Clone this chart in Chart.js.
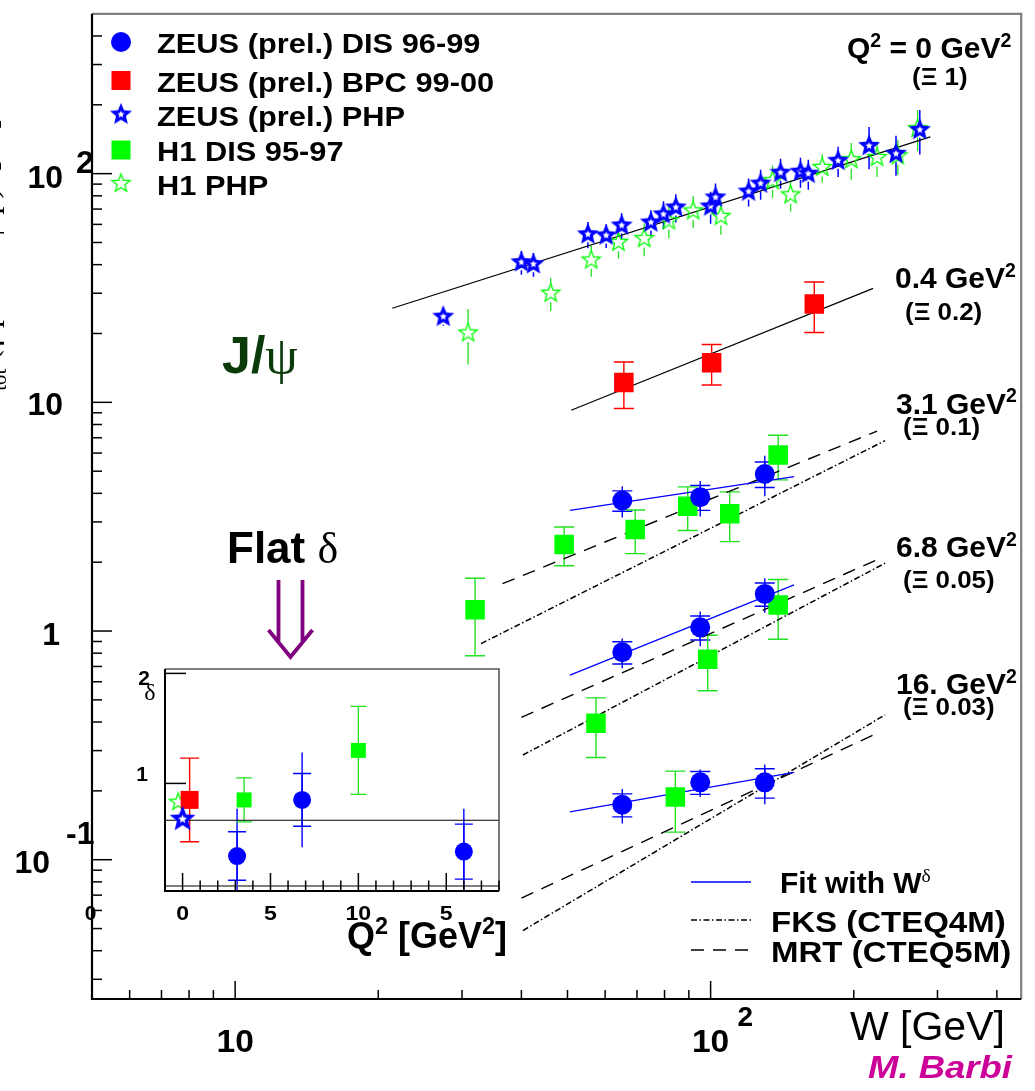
<!DOCTYPE html>
<html>
<head>
<meta charset="utf-8">
<script src="https://cdn.jsdelivr.net/npm/chart.js@4.4.0/dist/chart.umd.min.js"></script>
<style>
  body { margin: 0; background: #fff; }
  #wrap { position: relative; width: 1035px; height: 1091px; overflow: hidden; }
  #main { position: absolute; left: 0; top: 0; }
  #inset { position: absolute; left: 120px; top: 640px; }
</style>
</head>
<body>
<div id="wrap">
  <canvas id="main" width="1035" height="1091"></canvas>
  <canvas id="inset" width="400" height="330"></canvas>
</div>
<script>
// ZEUS photoproduction (Q2 = 0)
const zeusPhpW = [27.4, 40.0, 42.4, 55.2, 60.3, 65.0, 74.9, 79.6, 84.5, 100, 102.4, 120.2, 127.4, 140.3, 154.5, 160.5, 185.4, 215.4, 245.4, 275.4];
const zeusPhpSigma = [23.7, 41.0, 40.2, 54.3, 53.7, 59.4, 61.2, 66.4, 71.2, 71.9, 78.7, 83.5, 90.5, 101, 102, 100, 113.9, 132.3, 122.2, 155.4];
const zeusPhpErr = [2.1, 4.9, 4.8, 7.1, 6.4, 7.7, 8.0, 9.3, 10.0, 11.5, 11.8, 11.7, 13.6, 15.2, 15.3, 15, 17.1, 27.8, 24.4, 34.2];

// H1 photoproduction (Q2 = 0)
const h1PhpW = [30.9, 46.1, 56.1, 64.0, 72.5, 81.7, 91.9, 105.1, 135, 147.3, 171.7, 197.6, 223.9, 247.6, 272.5];
const h1PhpSigma = [20.1, 30.0, 41.9, 50.1, 52.0, 62.2, 68.7, 65.0, 93.2, 80.8, 106.5, 115.1, 117.7, 119.8, 157.4];
const h1PhpErr = [5.5, 5.0, 6.5, 7.5, 8.5, 10, 11, 11, 15, 12.5, 15, 21, 21, 21, 32];

// ZEUS BPC (Q2 = 0.4, x 0.2)
const bpcW = [65.7, 100.5, 165.2];
const bpcSigma = [12.2, 14.9, 26.9];
const bpcErr = [2.8, 3.0, 6.7];

// ZEUS DIS (scaled)
const zeusDisW = [65.2, 95.1, 130];
const zeusDis31 = [3.72, 3.85, 4.86];
const zeusDis31Stat = [0.38, 0.48, 0.62];
const zeusDis31Tot = [0.58, 0.68, 0.98];
const zeusDis68 = [0.808, 1.038, 1.453];
const zeusDis68Stat = [0.09, 0.125, 0.17];
const zeusDis68Tot = [0.12, 0.18, 0.25];
const zeusDis16 = [0.174, 0.218, 0.218];
const zeusDis16Stat = [0.02, 0.025, 0.032];
const zeusDis16Tot = [0.03, 0.03, 0.043];

// H1 DIS (scaled)
const h1Dis31W = [31.96, 49.2, 69.4, 89.5, 109.7, 138.7];
const h1Dis31 = [1.24, 2.39, 2.78, 3.51, 3.26, 5.88];
const h1Dis31Err = [0.46, 0.46, 0.6, 0.76, 0.8, 1.3];
const h1Dis68W = [57.4, 98.6, 138.7];
const h1Dis68 = [0.395, 0.753, 1.301];
const h1Dis68Err = [0.115, 0.205, 0.38];
const h1Dis16W = [84.3];
const h1Dis16 = [0.188];
const h1Dis16Err = [0.056];

// curves: end points (power laws are straight on log-log)
const fitPhpW = [21.4, 289.8], fitPhp = [25.8, 144.8];
const fitBpcW = [50.9, 219.7], fitBpc = [9.23, 31.5];
const fitDisW = [50.6, 149.8];
const fit31 = [3.37, 4.73], fit68 = [0.642, 1.59], fit16 = [0.162, 0.241];
const mrt31W = [36.5, 223.9], mrt31 = [1.61, 7.48];
const mrtW = [40.0, 223.9];
const mrt68 = [0.419, 2.05], mrt16 = [0.0679, 0.357];
const fks31W = [32.9, 232.8], fks31 = [0.881, 6.80];
const fksW = [40.3, 232.8];
const fks68 = [0.287, 1.98], fks16 = [0.049, 0.430];

// inset: delta vs Q2
const dZeusQ2 = [3.1, 6.8, 16];
const dZeus = [0.34, 0.85, 0.38];
const dZeusStat = [0.22, 0.24, 0.25];
const dZeusTot = [0.43, 0.43, 0.39];
const dH1Q2 = [3.5, 10];
const dH1 = [0.85, 1.30];
const dH1Err = [0.2, 0.4];
const dBpcQ2 = [0.4], dBpc = [0.85], dBpcErr = [0.38];
const dZeusPhpQ2 = [0], dZeusPhp = [0.675];
const dH1PhpQ2 = [-0.25], dH1Php = [0.83];
const flatQ2 = [-1, 18], flatDelta = [0.665, 0.665];

const SANS = '"Liberation Sans", Arial, Helvetica, sans-serif';
const SERIF = '"Liberation Serif", "DejaVu Serif", serif';
const BLUE = '#0000ff', RED = '#ff0000', GREEN = '#00ff00', GREEN_LINE = '#22e022';

const pt = (xs, ys) => xs.map((x, i) => ({ x, y: ys[i] }));

function starCanvas(R, r, color, lw, hole) {
  const s = Math.ceil(2 * R + 4 * lw + 4);
  const c = document.createElement('canvas');
  c.width = c.height = s;
  const g = c.getContext('2d');
  g.translate(s / 2, s / 2);
  const path = (R1, r1) => {
    g.beginPath();
    for (let k = 0; k < 10; k++) {
      const rad = k % 2 ? r1 : R1;
      const a = -Math.PI / 2 + k * Math.PI / 5;
      g.lineTo(rad * Math.cos(a), rad * Math.sin(a));
    }
    g.closePath();
  };
  if (hole) {
    path(R, r); g.fillStyle = color; g.fill();
    path(hole, hole * 0.45); g.fillStyle = '#fff'; g.fill();
  } else {
    path(R, r); g.strokeStyle = color; g.lineWidth = lw; g.stroke();
  }
  return c;
}
const blueStar = starCanvas(11.6, 5.2, BLUE, 0, 3.8);
const greenStar = starCanvas(9.6, 4, GREEN, 1.3);
const blueStarBig = starCanvas(13.5, 6, BLUE, 0, 4.6);
const greenStarIn = starCanvas(9, 3.7, GREEN, 1.3);

function rich(ctx, segs, x, y, size, o = {}) {
  ctx.save();
  ctx.fillStyle = o.color || '#000';
  ctx.textBaseline = 'alphabetic';
  ctx.textAlign = 'left';
  ctx.translate(x, y);
  ctx.scale(o.sx || 1, 1);
  let cx = 0;
  if (o.align === 'right' || o.align === 'center') {
    let w = 0;
    segs.forEach(s => { ctx.font = segFont(s, size, o); w += ctx.measureText(s.t).width; });
    cx = o.align === 'right' ? -w : -w / 2;
  }
  segs.forEach(s => {
    ctx.font = segFont(s, size, o);
    const dy = s.sup ? -size * 0.38 : (s.sub ? size * 0.28 : 0);
    ctx.fillText(s.t, cx, dy);
    cx += ctx.measureText(s.t).width;
  });
  ctx.restore();
}
function segFont(s, size, o) {
  const sz = (s.sup || s.sub) ? size * 0.65 : size;
  const w = s.weight || o.weight || 'bold';
  return `${s.italic || o.italic ? 'italic ' : ''}${w} ${sz}px ${s.family || o.family || SANS}`;
}
const T = (t, extra) => Object.assign({ t }, extra);

const errorBars = {
  id: 'errorBars',
  beforeDatasetsDraw(chart) {
    const { ctx, chartArea: a } = chart;
    const xs = chart.scales.x, ys = chart.scales.y;
    ctx.save();
    ctx.beginPath();
    ctx.rect(a.left, a.top, a.right - a.left, a.bottom - a.top);
    ctx.clip();
    chart.data.datasets.forEach(ds => {
      if (!ds.errTot && !ds.errStat) return;
      ctx.strokeStyle = ds.errColor;
      ctx.lineWidth = ds.errWidth || 1.3;
      ds.data.forEach((p, i) => {
        const px = xs.getPixelForValue(p.x), py = ys.getPixelForValue(p.y);
        const gap = ds.gap || 0;
        const bar = (e, cap) => {
          const hi = ys.getPixelForValue(p.y + e);
          const loV = p.y - e;
          const lo = (ys.type === 'logarithmic' && loV <= 0) ? a.bottom + 5 : ys.getPixelForValue(loV);
          ctx.beginPath();
          if (hi < py - gap) { ctx.moveTo(px, hi); ctx.lineTo(px, py - gap); }
          if (lo > py + gap) { ctx.moveTo(px, py + gap); ctx.lineTo(px, lo); }
          if (cap) {
            ctx.moveTo(px - cap, hi); ctx.lineTo(px + cap, hi);
            ctx.moveTo(px - cap, lo); ctx.lineTo(px + cap, lo);
          }
          ctx.stroke();
        };
        if (ds.errTot) bar(ds.errTot[i], 0);
        if (ds.errStat) bar(ds.errStat[i], ds.capW || 10);
      });
    });
    ctx.restore();
  }
};

const markers = (data, style, radius, color, order, extra) => Object.assign({
  data, pointStyle: style, pointRadius: radius, backgroundColor: color,
  borderColor: color, borderWidth: 0, showLine: false, order
}, extra);
const curve = (xs, ys, color, dash, width) => ({
  data: pt(xs, ys), showLine: true, pointRadius: 0, borderColor: color,
  borderWidth: width, borderDash: dash, fill: false, tension: 0, order: 8
});
const MRT_DASH = [13, 9];
const FKS_DASH = [6, 2.5, 1.5, 2.5];

const mainDecor = {
  id: 'mainDecor',
  afterDraw(chart) {
    const { ctx, chartArea: a, scales: { x, y } } = chart;
    ctx.save();
    // frame
    ctx.lineWidth = 2.2;
    ctx.strokeStyle = '#808080';
    ctx.beginPath(); ctx.moveTo(a.left, a.top); ctx.lineTo(a.right, a.top); ctx.lineTo(a.right, a.bottom); ctx.stroke();
    ctx.strokeStyle = '#000';
    ctx.beginPath(); ctx.moveTo(a.left, a.top); ctx.lineTo(a.left, a.bottom); ctx.lineTo(a.right, a.bottom); ctx.stroke();
    // ticks
    ctx.lineWidth = 1.5;
    for (let e = -2; e <= 2; e++) for (let k = 1; k <= 9; k++) {
      const v = k * Math.pow(10, e);
      if (v <= y.min || v >= y.max) continue;
      const py = y.getPixelForValue(v);
      ctx.beginPath(); ctx.moveTo(a.left, py); ctx.lineTo(a.left + (k === 1 ? 20 : 10), py); ctx.stroke();
    }
    for (let e = 0; e <= 2; e++) for (let k = 1; k <= 9; k++) {
      const v = k * Math.pow(10, e);
      if (v <= x.min || v >= x.max) continue;
      const px = x.getPixelForValue(v);
      ctx.beginPath(); ctx.moveTo(px, a.bottom); ctx.lineTo(px, a.bottom - (k === 1 ? 18 : 9)); ctx.stroke();
    }
    // y tick labels
    const L = 32;
    let py = y.getPixelForValue(100);
    rich(ctx, [T('10')], 63, py + 14, L, { align: 'right' });
    rich(ctx, [T('2')], 76, py - 1, L);
    py = y.getPixelForValue(10);
    rich(ctx, [T('10')], 63, py + 13, L, { align: 'right' });
    py = y.getPixelForValue(1);
    rich(ctx, [T('1')], 60, py + 13.5, L, { align: 'right' });
    py = y.getPixelForValue(0.1);
    rich(ctx, [T('10')], 50, py + 13, L, { align: 'right' });
    rich(ctx, [T('-1')], 66, py - 16, L);
    rich(ctx, [T('0')], 90.5, 920, 21, { align: 'center' });
    // x tick labels
    let px = x.getPixelForValue(10);
    rich(ctx, [T('10')], px, 1052, L, { align: 'center', sx: 1.05 });
    px = x.getPixelForValue(100);
    rich(ctx, [T('10')], px, 1052, L, { align: 'center', sx: 1.05 });
    rich(ctx, [T('2')], px + 27, 1026, 28);
    // axis titles
    rich(ctx, [T('W [GeV]', { weight: 'normal' })], 850, 1040, 41);
    rich(ctx, [T('M. Barbi')], 868, 1078, 32, { italic: true, color: '#cc0099', sx: 1.14 });
    // y title, mostly cut off at the left edge
    ctx.save();
    ctx.translate(-3, 408);
    ctx.rotate(-Math.PI / 2);
    rich(ctx, [T('σ'), T('tot', { sub: true }), T(' (γ p → J/ψ p)  [nb]')], 0, 0, 32, { weight: 'normal', family: SERIF });
    ctx.restore();

    // legend top-left
    const rows = [
      ['circle', 'ZEUS (prel.) DIS 96-99', 42],
      ['red', 'ZEUS (prel.) BPC 99-00', 80.5],
      ['bstar', 'ZEUS (prel.) PHP', 114.5],
      ['green', 'H1 DIS 95-97', 150],
      ['gstar', 'H1 PHP', 183.5]
    ];
    rows.forEach(([m, label, cy]) => {
      const mx = 121;
      if (m === 'circle') { ctx.fillStyle = BLUE; ctx.beginPath(); ctx.arc(mx, cy, 10, 0, Math.PI * 2); ctx.fill(); }
      if (m === 'red') { ctx.fillStyle = RED; ctx.fillRect(mx - 9.5, cy - 9.5, 19, 19); }
      if (m === 'green') { ctx.fillStyle = GREEN; ctx.fillRect(mx - 9.5, cy - 9.5, 19, 19); }
      if (m === 'bstar') ctx.drawImage(blueStar, mx - blueStar.width / 2, cy - blueStar.height / 2);
      if (m === 'gstar') ctx.drawImage(greenStar, mx - greenStar.width / 2, cy - greenStar.height / 2);
      rich(ctx, [T(label)], 157, cy + 11, 28, { sx: 1.1 });
    });

    // Q2 labels on the right
    const G = (v) => [T(v + ' GeV'), T('2', { sup: true })];
    rich(ctx, [T('Q'), T('2', { sup: true }), T(' = 0 GeV'), T('2', { sup: true })], 847, 58, 30);
    rich(ctx, [T('(Ξ 1)')], 912, 85, 24, { sx: 1.08 });
    rich(ctx, G('0.4'), 895, 288, 30);
    rich(ctx, [T('(Ξ 0.2)')], 905, 320, 24, { sx: 1.08 });
    rich(ctx, G('3.1'), 896, 413.5, 30);
    rich(ctx, [T('(Ξ 0.1)')], 903, 435, 24, { sx: 1.08 });
    rich(ctx, G('6.8'), 896, 557, 30);
    rich(ctx, [T('(Ξ 0.05)')], 903, 588, 24, { sx: 1.08 });
    rich(ctx, G('16.'), 896, 694, 30);
    rich(ctx, [T('(Ξ 0.03)')], 903, 715, 24, { sx: 1.08 });

    // J/psi and Flat delta
    rich(ctx, [T('J/'), T('ψ', { weight: 'normal', family: SERIF })], 222, 373, 52, { color: '#0b3b0b' });
    rich(ctx, [T('Flat '), T('δ', { weight: 'normal', family: SERIF })], 227, 563, 44);
    // purple double arrow
    ctx.strokeStyle = '#800080';
    ctx.lineWidth = 3.8;
    ctx.lineJoin = 'miter';
    ctx.beginPath();
    ctx.moveTo(278.5, 580); ctx.lineTo(278.5, 641);
    ctx.moveTo(302.5, 580); ctx.lineTo(302.5, 641);
    ctx.moveTo(268.5, 630); ctx.lineTo(290.5, 657); ctx.lineTo(312.5, 630);
    ctx.stroke();

    // bottom-right legend
    ctx.lineWidth = 1.5;
    ctx.strokeStyle = BLUE;
    ctx.beginPath(); ctx.moveTo(691, 882); ctx.lineTo(751, 882); ctx.stroke();
    ctx.strokeStyle = '#000';
    ctx.setLineDash(FKS_DASH);
    ctx.beginPath(); ctx.moveTo(691, 920); ctx.lineTo(751, 920); ctx.stroke();
    ctx.setLineDash(MRT_DASH);
    ctx.beginPath(); ctx.moveTo(691, 950); ctx.lineTo(751, 950); ctx.stroke();
    ctx.setLineDash([]);
    rich(ctx, [T('Fit with W'), T('δ', { sup: true, weight: 'normal', family: SERIF })], 780, 893, 30);
    rich(ctx, [T('FKS (CTEQ4M)')], 771, 931.5, 30, { sx: 1.1 });
    rich(ctx, [T('MRT (CTEQ5M)')], 771, 961.5, 30, { sx: 1.1 });
    ctx.restore();
  }
};

new Chart(document.getElementById('main'), {
  type: 'scatter',
  data: {
    datasets: [
      markers(pt(zeusPhpW, zeusPhpSigma), blueStar, 10, BLUE, 0,
        { errTot: zeusPhpErr, errColor: BLUE, errWidth: 1.5, gap: 8 }),
      markers([...pt(zeusDisW, zeusDis31), ...pt(zeusDisW, zeusDis68), ...pt(zeusDisW, zeusDis16)], 'circle', 10, BLUE, 1,
        { errStat: [...zeusDis31Stat, ...zeusDis68Stat, ...zeusDis16Stat],
          errTot: [...zeusDis31Tot, ...zeusDis68Tot, ...zeusDis16Tot], errColor: BLUE, errWidth: 1.4, capW: 10 }),
      markers(pt(bpcW, bpcSigma), 'rect', 13.8, RED, 2,
        { errStat: bpcErr, errColor: RED, errWidth: 1.4, capW: 10 }),
      markers(pt(h1PhpW, h1PhpSigma), greenStar, 10, GREEN, 3,
        { errTot: h1PhpErr, errColor: GREEN_LINE, errWidth: 1.3, gap: 9 }),
      markers([...pt(h1Dis31W, h1Dis31), ...pt(h1Dis68W, h1Dis68), ...pt(h1Dis16W, h1Dis16)], 'rect', 13.8, GREEN, 4,
        { errStat: [...h1Dis31Err, ...h1Dis68Err, ...h1Dis16Err], errColor: GREEN_LINE, errWidth: 1.4, capW: 10 }),
      curve(fitPhpW, fitPhp, '#000', [], 1.2),
      curve(fitBpcW, fitBpc, '#000', [], 1.2),
      curve(fitDisW, fit31, BLUE, [], 1.3),
      curve(fitDisW, fit68, BLUE, [], 1.3),
      curve(fitDisW, fit16, BLUE, [], 1.3),
      curve(mrt31W, mrt31, '#000', MRT_DASH, 1.4),
      curve(mrtW, mrt68, '#000', MRT_DASH, 1.4),
      curve(mrtW, mrt16, '#000', MRT_DASH, 1.4),
      curve(fks31W, fks31, '#000', FKS_DASH, 1.5),
      curve(fksW, fks68, '#000', FKS_DASH, 1.5),
      curve(fksW, fks16, '#000', FKS_DASH, 1.5)
    ]
  },
  options: {
    responsive: false,
    animation: false,
    events: [],
    layout: { padding: { left: 92, top: 7, right: 10, bottom: 92 } },
    plugins: { legend: { display: false }, tooltip: { enabled: false } },
    scales: {
      x: { type: 'logarithmic', min: 5, max: 450, display: false },
      y: { type: 'logarithmic', min: 0.0246, max: 500, display: false }
    }
  },
  plugins: [errorBars, mainDecor]
});

// inset
const insetDecor = {
  id: 'insetDecor',
  beforeDraw(chart) {
    const { ctx, chartArea: a } = chart;
    ctx.save();
    ctx.fillStyle = '#fff';
    ctx.fillRect(a.left, a.top, a.right - a.left, a.bottom - a.top);
    ctx.restore();
  },
  afterDraw(chart) {
    const { ctx, chartArea: a, scales: { x, y } } = chart;
    ctx.save();
    ctx.lineWidth = 1.6;
    ctx.strokeStyle = '#555';
    ctx.beginPath(); ctx.moveTo(a.left, a.top); ctx.lineTo(a.right, a.top); ctx.lineTo(a.right, a.bottom); ctx.stroke();
    ctx.beginPath(); ctx.moveTo(a.left, a.bottom - 5); ctx.lineTo(a.right, a.bottom - 5); ctx.stroke();
    ctx.strokeStyle = '#000';
    ctx.lineWidth = 2;
    ctx.beginPath(); ctx.moveTo(a.left, a.top); ctx.lineTo(a.left, a.bottom); ctx.lineTo(a.right, a.bottom); ctx.stroke();
    ctx.lineWidth = 1.5;
    for (let v = Math.ceil(x.min); v <= x.max; v++) {
      const px = x.getPixelForValue(v);
      ctx.beginPath(); ctx.moveTo(px, a.bottom); ctx.lineTo(px, a.bottom - (v % 5 === 0 ? 18 : 10.5)); ctx.stroke();
    }
    [1, 2].forEach(v => {
      const py = y.getPixelForValue(v);
      ctx.beginPath(); ctx.moveTo(a.left, py); ctx.lineTo(a.left + 21, py); ctx.stroke();
    });
    [[0, '0'], [5, '5'], [10, '10'], [15, '5']].forEach(([v, s]) => {
      rich(ctx, [T(s)], x.getPixelForValue(v), 280, 21, { align: 'center', sx: 1.1 });
    });
    rich(ctx, [T('2')], 30, y.getPixelForValue(2) + 12, 21, { align: 'right' });
    rich(ctx, [T('1')], 28, y.getPixelForValue(1) - 2, 21, { align: 'right' });
    rich(ctx, [T('δ', { weight: 'normal', family: SERIF })], 30, 60, 24, { align: 'center' });
    rich(ctx, [T('Q'), T('2', { sup: true }), T(' [GeV'), T('2', { sup: true }), T(']')], 227, 308, 36);
    ctx.restore();
  }
};

new Chart(document.getElementById('inset'), {
  type: 'scatter',
  data: {
    datasets: [
      markers(pt(dZeusPhpQ2, dZeusPhp), blueStarBig, 10, BLUE, 0),
      markers(pt(dBpcQ2, dBpc), 'rect', 12.7, RED, 1, { errStat: dBpcErr, errColor: RED, errWidth: 1.4, capW: 9.5 }),
      markers(pt(dZeusQ2, dZeus), 'circle', 9, BLUE, 2,
        { errStat: dZeusStat, errTot: dZeusTot, errColor: BLUE, errWidth: 1.4, capW: 9 }),
      markers(pt(dH1Q2, dH1), 'rect', 10.6, GREEN, 3, { errStat: dH1Err, errColor: GREEN_LINE, errWidth: 1.3, capW: 8 }),
      markers(pt(dH1PhpQ2, dH1Php), greenStarIn, 9, GREEN, 4),
      curve(flatQ2, flatDelta, '#000', [], 1.2)
    ]
  },
  options: {
    responsive: false,
    animation: false,
    events: [],
    layout: { padding: { left: 45, top: 29, right: 21, bottom: 79 } },
    plugins: { legend: { display: false }, tooltip: { enabled: false } },
    scales: {
      x: { type: 'linear', min: -1, max: 18, display: false },
      y: { type: 'linear', min: 0.022, max: 2.04, display: false }
    }
  },
  plugins: [errorBars, insetDecor]
});
</script>
</body>
</html>
